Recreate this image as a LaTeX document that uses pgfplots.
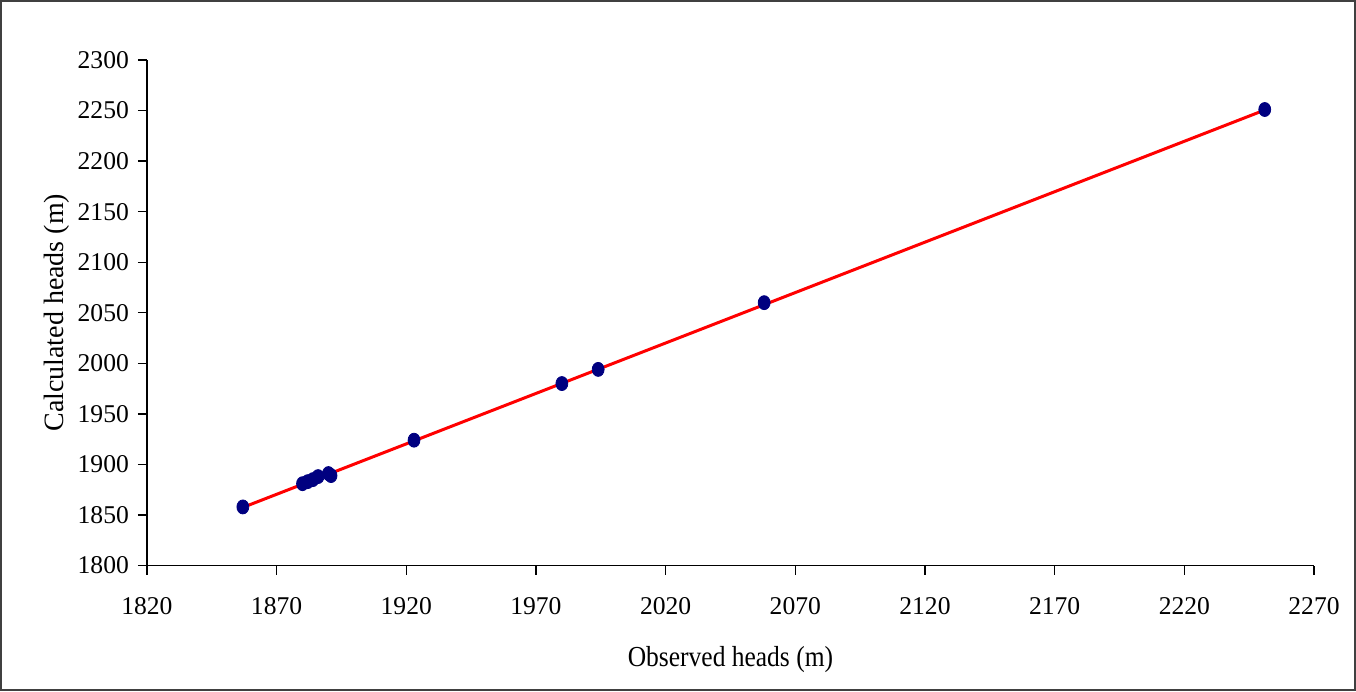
\documentclass[border=0pt]{standalone}
\usepackage{pgfplots}
\pgfplotsset{compat=1.18}
\usepackage{fontspec}
\setmainfont{Liberation Serif}
\newfontfamily\xlabfont{Liberation Serif}[FakeStretch=0.88]
\definecolor{navymk}{RGB}{0,0,128}
\begin{document}
\begin{tikzpicture}
\pgfplotstableread{
x y
1857 1858
1880 1881
1882 1883
1884 1885
1886 1888
1890 1891
1891 1889
1923 1924
1980 1980
1994 1994
2058 2060
2251 2251
}\obs
\begin{axis}[
  at={(0,0)}, anchor=south west,
  scale only axis, width=584pt, height=253pt,
  xmin=1820, xmax=2270, ymin=1800, ymax=2300,
  xtick={1820,1870,...,2270}, ytick={1800,1850,...,2300},
  axis x line*=bottom, axis y line*=left,
  axis line style={line width=0.7pt, -},
  tick style={line width=0.7pt, black},
  tick align=outside, major tick length=4.5pt,
  /pgf/number format/assume math mode=true,
  /pgf/number format/set thousands separator={},
  ticklabel style={font=\fontsize{12.8}{15}\selectfont},
  xticklabel style={yshift=-8pt},
  yticklabel style={xshift=-1pt},
  xlabel={Observed heads (m)},
  ylabel={Calculated heads (m)},
  xlabel style={font=\xlabfont\fontsize{14.5}{17}\selectfont, at={(axis description cs:0.5,0)}, anchor=center, yshift=-47pt},
  ylabel style={font=\fontsize{14}{17}\selectfont, at={(axis description cs:0,0.5)}, anchor=center, yshift=45pt},
  clip=false,
]
\addplot[only marks, mark=*, mark size=3.5pt, mark options={fill=navymk, draw=navymk, xscale=0.85}] table {\obs};
\addplot[red, line width=1.5pt, no marks] coordinates {(1857,1857.5) (2251,2250.5)};
\end{axis}
\draw[line width=1pt, black!75] (-73pt,-62.5pt) rectangle (604.5pt,282.5pt);
\end{tikzpicture}
\end{document}
